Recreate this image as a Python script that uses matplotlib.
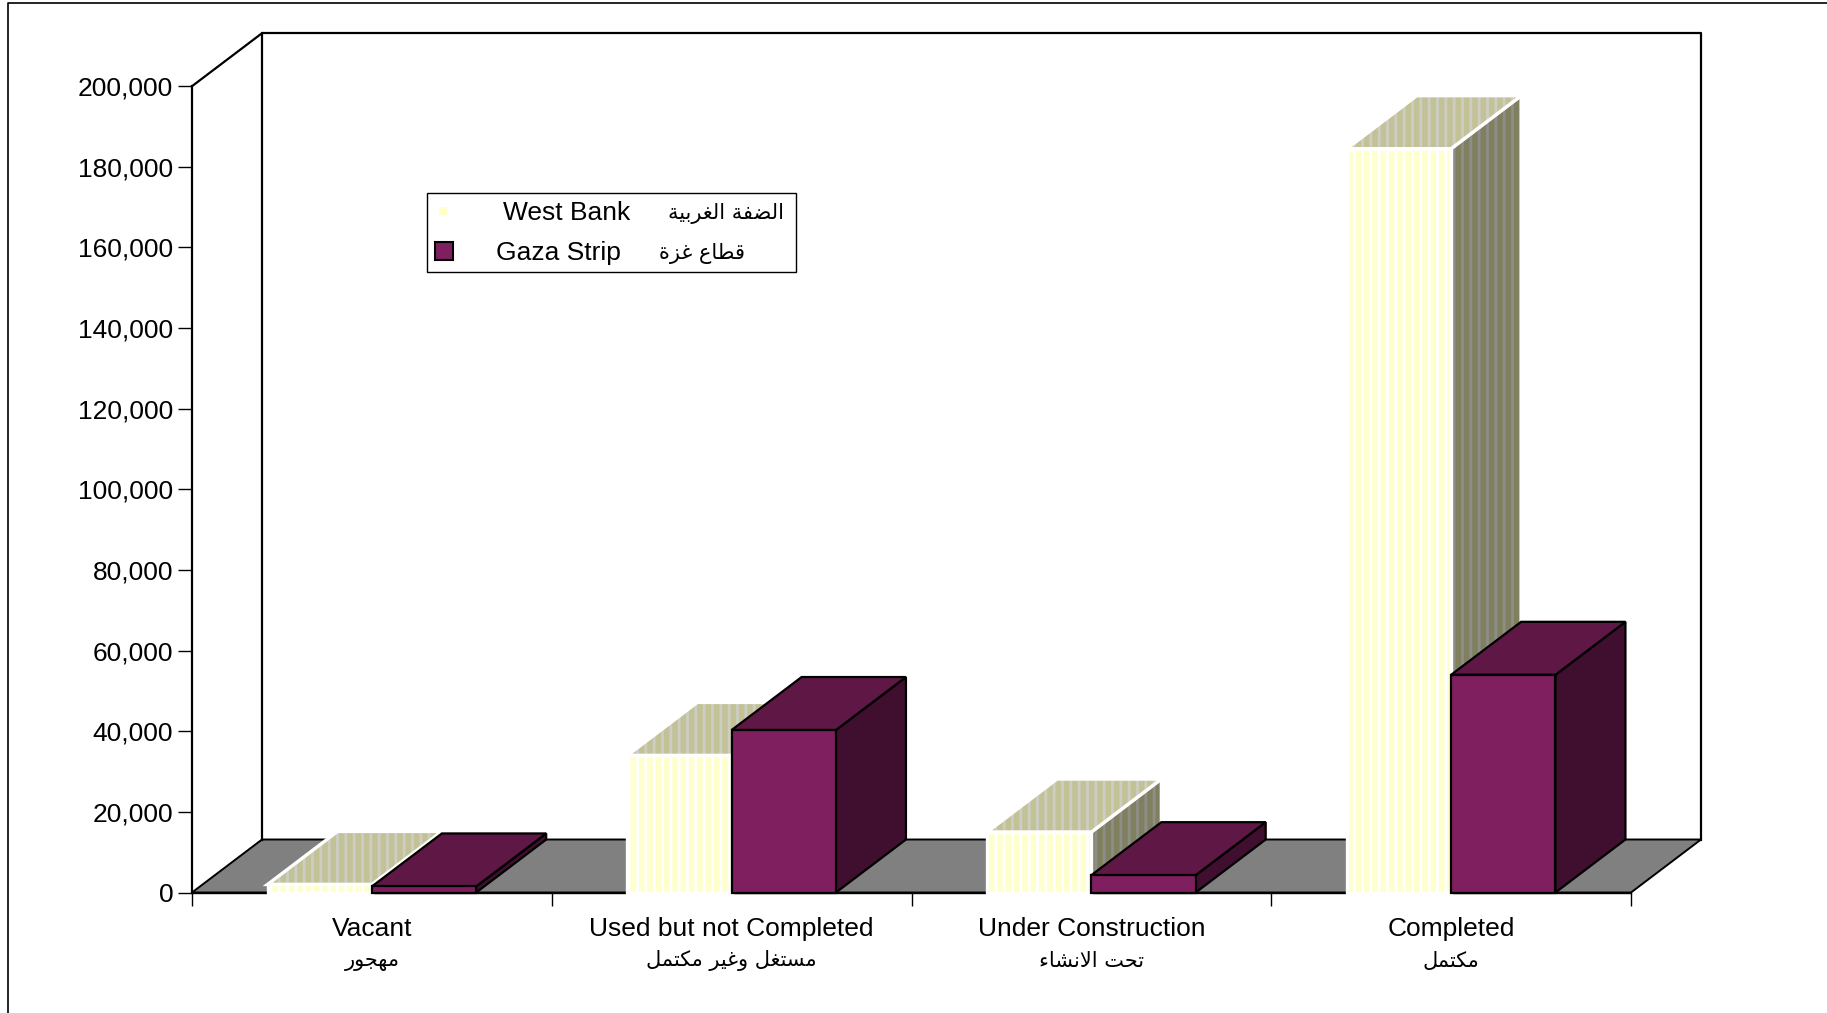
import matplotlib
matplotlib.use("Agg")
import matplotlib.pyplot as plt
from matplotlib.patches import Polygon, Rectangle
from matplotlib.lines import Line2D

categories = ["Vacant", "Used but not Completed", "Under Construction", "Completed"]
categories_ar = ["مهجور", "مستغل وغير مكتمل", "تحت الانشاء", "مكتمل"]
west_bank = [2000, 34000, 15000, 184500]
gaza_strip = [1500, 40300, 4300, 54000]
series_en = ["West Bank", "Gaza Strip"]
series_ar = ["الضفة الغربية", "قطاع غزة"]
y_ticks = list(range(0, 200001, 20000))

# Arabic presentation forms (isolated; final/initial/medial follow at +1/+2/+3)
AR_ISO = {"ء": 0xFE80, "ا": 0xFE8D, "ب": 0xFE8F, "ة": 0xFE93, "ت": 0xFE95, "ج": 0xFE9D,
          "ح": 0xFEA1, "ر": 0xFEAD, "ز": 0xFEAF, "س": 0xFEB1, "ش": 0xFEB5, "ض": 0xFEBD,
          "ط": 0xFEC1, "ع": 0xFEC9, "غ": 0xFECD, "ف": 0xFED1, "ق": 0xFED5, "ك": 0xFED9,
          "ل": 0xFEDD, "م": 0xFEE1, "ن": 0xFEE5, "ه": 0xFEE9, "و": 0xFEED, "ي": 0xFEF1}
RIGHT_ONLY = set("اةرزو")
NON_JOIN = set("ء")


def shape_ar(text):
    chars = []
    i = 0
    while i < len(text):
        if text[i] == "ل" and i + 1 < len(text) and text[i + 1] == "ا":
            chars.append("لا")
            i += 2
        else:
            chars.append(text[i])
            i += 1

    def dual(c):
        return c in AR_ISO and c not in RIGHT_ONLY and c not in NON_JOIN

    def joins(c):
        return (c in AR_ISO and c not in NON_JOIN) or c == "لا"

    out = []
    for k, c in enumerate(chars):
        prev = chars[k - 1] if k > 0 else " "
        nxt = chars[k + 1] if k + 1 < len(chars) else " "
        p = dual(prev) and joins(c)
        n = dual(c) and joins(nxt)
        if c == "لا":
            out.append(chr(0xFEFB + int(p)))
        elif c not in AR_ISO:
            out.append(c)
        elif c in RIGHT_ONLY or c in NON_JOIN:
            out.append(chr(AR_ISO[c] + int(p)))
        else:
            out.append(chr(AR_ISO[c] + (3 if p and n else 1 if p else 2 if n else 0)))
    return "".join(reversed(out))


plt.rcParams["font.family"] = ["Liberation Sans", "DejaVu Sans"]
plt.rcParams["hatch.linewidth"] = 2.0

W, H = 1827, 1013
fig = plt.figure(figsize=(W / 100, H / 100), dpi=100)
ax = fig.add_axes([192 / W, 1 - 892.5 / H, 1439 / W, 806.3 / H])
ax.set_xlim(0, 4)
ax.set_ylim(0, 200000)
ax.patch.set_visible(False)

# depth of the 3D box, in data units
dx = 70 / (1439 / 4)
dy = 53 / (806.3 / 200000)
ytop = y_ticks[-1]

for s in ["top", "right"]:
    ax.spines[s].set_visible(False)
ax.spines["left"].set_linewidth(1.6)
ax.spines["bottom"].set_linewidth(1.0)
ax.spines["left"].set_zorder(5)

ax.set_yticks(y_ticks)
ax.set_yticklabels([f"{v:,}" for v in y_ticks], fontsize=19)
ax.set_xticks(range(len(categories) + 1))
ax.set_xticklabels([])
ax.tick_params(axis="y", direction="out", length=10, width=1, pad=3.5)
ax.tick_params(axis="x", direction="out", length=9.5, width=1)

# floor and walls
ax.add_patch(Polygon([(0, 0), (4, 0), (4 + dx, dy), (dx, dy)], closed=True,
                     facecolor="#808080", edgecolor="black", lw=1.4, zorder=1, clip_on=False))
ax.add_line(Line2D([dx, dx, 4 + dx, 4 + dx], [dy, ytop + dy, ytop + dy, dy],
                   color="black", lw=1.6, zorder=1, clip_on=False))
ax.add_line(Line2D([0, dx], [ytop, ytop + dy], color="black", lw=1.6, zorder=1, clip_on=False))

gap, bw = 0.21, 0.29


def draw_bar(x0, h, faces, edge, elw, stripes=None):
    front = [(x0, 0), (x0 + bw, 0), (x0 + bw, h), (x0, h)]
    top = [(x0, h), (x0 + bw, h), (x0 + bw + dx, h + dy), (x0 + dx, h + dy)]
    side = [(x0 + bw, 0), (x0 + bw + dx, dy), (x0 + bw + dx, h + dy), (x0 + bw, h)]
    for k, pts in enumerate([side, top, front]):
        fc = faces[k]
        if stripes is not None:
            ax.add_patch(Polygon(pts, closed=True, facecolor=fc, edgecolor=stripes[k],
                                 lw=0, hatch="||", zorder=3, clip_on=False))
        else:
            ax.add_patch(Polygon(pts, closed=True, facecolor=fc, lw=0, zorder=3, clip_on=False))
        ax.add_patch(Polygon(pts, closed=True, fill=False, edgecolor=edge, lw=elw,
                             joinstyle="miter", zorder=3, clip_on=False))


wb_faces = ["#808060", "#C2C296", "#FFFFCC"]
wb_stripes = ["#8E8E88", "#CDCDC4", "#FFFFFF"]
gz_faces = ["#400F30", "#5F1745", "#7F1F5F"]

for i in range(len(categories)):
    x0 = i + gap
    draw_bar(x0, west_bank[i], wb_faces, "white", 2.4, wb_stripes)
    draw_bar(x0 + bw, gaza_strip[i], gz_faces, "black", 1.6)
    ax.annotate(categories[i], xy=(i + 0.5, 0), xytext=(0, -36), textcoords="offset pixels",
                ha="center", va="center", fontsize=19, annotation_clip=False)
    ax.annotate(shape_ar(categories_ar[i]), xy=(i + 0.5, 0), xytext=(0, -68),
                textcoords="offset pixels", ha="center", va="center", fontsize=15,
                family="DejaVu Sans", annotation_clip=False)

# legend box
tf = fig.transFigure
fig.patches.append(Rectangle((427 / W, 1 - 272 / H), 369 / W, 79 / H, fill=False,
                             edgecolor="black", lw=1.0, transform=tf))
fig.patches.append(Rectangle((439 / W, 1 - 215 / H), 8 / W, 8 / H, facecolor="#FFFFCC",
                             lw=0, transform=tf))
fig.patches.append(Rectangle((435 / W, 1 - 260 / H), 18 / W, 18 / H, facecolor="#7F1F5F",
                             edgecolor="black", lw=1.5, transform=tf))
fig.text(567 / W, 1 - 213 / H, series_en[0], ha="center", va="center", fontsize=19)
fig.text(558 / W, 1 - 253 / H, series_en[1], ha="center", va="center", fontsize=19)
fig.text(726 / W, 1 - 213 / H, shape_ar(series_ar[0]), ha="center", va="center",
         fontsize=15, family="DejaVu Sans")
fig.text(702 / W, 1 - 253 / H, shape_ar(series_ar[1]), ha="center", va="center",
         fontsize=15, family="DejaVu Sans")

# outer frame
fig.add_artist(Line2D([8 / W, 8 / W, 1], [0, 1 - 3 / H, 1 - 3 / H], color="black", lw=1.2,
                      transform=tf))

fig.savefig("out.png", dpi=100)
